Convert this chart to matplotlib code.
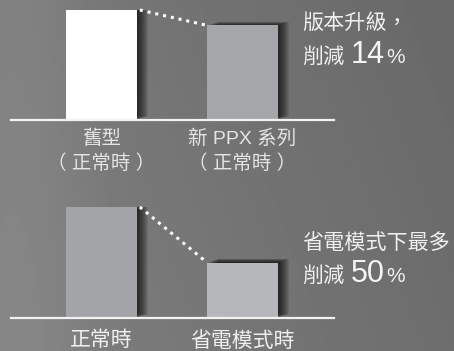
import numpy as np
import matplotlib
matplotlib.use("Agg")
import matplotlib.pyplot as plt
import matplotlib.patheffects as pe

plt.rcParams['font.family'] = ['Liberation Sans', 'Noto Sans CJK TC', 'DejaVu Sans']

# power consumption, normal model = 100
top_labels = [["舊型", "（ 正常時 ）"], ["新 PPX 系列", "（ 正常時 ）"]]
top_values = [100, 86]
top_colors = ['#ffffff', '#a5a6aa']
top_note = "版本升級，"

bottom_labels = ["正常時", "省電模式時"]
bottom_values = [100, 50]
bottom_colors = ['#a3a4a8', '#b6b7bb']
bottom_note = "省電模式下最多"

W, H = 454, 351
fig = plt.figure(figsize=(W / 100, H / 100), dpi=100)

# background gradient
bg = fig.add_axes([0, 0, 1, 1])
gx, gy = np.meshgrid(np.linspace(0, 1, 200), np.linspace(0, 1, 200))
shade = 0.50 - 0.07 * gx - 0.02 * gy + 0.03 * np.exp(-((gx - 0.05) ** 2) / 0.02)
bg.imshow(shade, cmap='gray', vmin=0, vmax=1, aspect='auto', extent=[0, 1, 0, 1], origin='lower')
bg.set_axis_off()

bar_w = 71 / 141
xlim = ((11 - 101.5) / 141, (334 - 101.5) / 141)

# soft drop shadow: stacked faint copies
shadow = [pe.SimplePatchShadow(offset=(k * 0.75, k * 0.25), shadow_rgbFace='black', alpha=0.085)
          for k in range(1, 12)] + [pe.Normal()]


def make_axes(base_px, unit_px):
    ax = fig.add_axes([11 / W, (H - base_px) / H, 323 / W, unit_px / H])
    ax.set_xlim(*xlim)
    ax.set_ylim(0, 100)
    ax.set_axis_off()
    return ax


def draw_pair(ax, values, colors):
    bars = ax.bar([0, 1], values, width=bar_w, color=colors, zorder=2)
    for b in bars:
        b.set_path_effects(shadow)
    ax.axhline(0, color='#f2f2f2', lw=1.6, zorder=3, clip_on=False)
    ax.plot([bar_w / 2 + 0.02, 1 - bar_w / 2], values, color='white', lw=2.2,
            linestyle=(0, (1, 1.6)), zorder=3, clip_on=False)


def note(lines_y, first, old, new):
    cut = round((1 - new / old) * 100)
    fig.text(302 / W, 1 - lines_y[0] / H, first, fontsize=15.2, color='#f0f0f0', va='center', ha='left')
    base = 1 - lines_y[1] / H
    fig.text(302 / W, base, "削減", fontsize=15.2, color='#f0f0f0', va='baseline', ha='left')
    fig.text(351 / W, base, str(cut), fontsize=22, color='#f4f4f4', va='baseline', ha='left')
    fig.text(386 / W, base, "%", fontsize=15, color='#f0f0f0', va='baseline', ha='left')


# top chart
ax1 = make_axes(120, 110)
draw_pair(ax1, top_values, top_colors)
for i, (l1, l2) in enumerate(top_labels):
    ax1.annotate(l1, (i, 0), xytext=(0, -13.8), textcoords='offset points',
                 ha='center', va='center', fontsize=14, color='#e4e4e4')
    ax1.annotate(l2, (i, 0), xytext=(0, -31.3), textcoords='offset points',
                 ha='center', va='center', fontsize=14, color='#e4e4e4')
note([22.5, 63], top_note, top_values[0], top_values[1])

# bottom chart
ax2 = make_axes(318, 111)
draw_pair(ax2, bottom_values, bottom_colors)
for i, lab in enumerate(bottom_labels):
    ax2.annotate(lab, (i, 0), xytext=(0, -16.2), textcoords='offset points',
                 ha='center', va='center', fontsize=15, color='#f0f0f0')
note([242.5, 282], bottom_note, bottom_values[0], bottom_values[1])

fig.savefig("out.png", dpi=100)
